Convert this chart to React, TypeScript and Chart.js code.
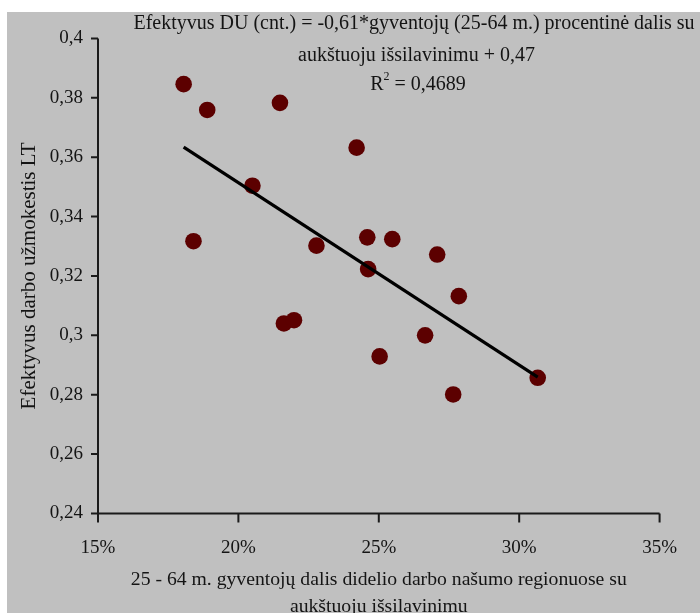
import React, { useEffect, useRef } from 'react';
import { Chart, registerables } from 'chart.js';

Chart.register(...registerables);

// Share (%) of 25-64 population with higher education in high-productivity regions
const educationShare = [
  18.05, 18.89, 21.48, 24.21, 20.5, 18.4, 22.78, 24.59, 25.48,
  27.08, 24.62, 27.85, 21.62, 21.98, 26.65, 25.03, 27.65, 30.66,
];
// Effective wage, LT
const effectiveWage = [
  0.3846, 0.3759, 0.3783, 0.3632, 0.3504, 0.3317, 0.3302, 0.333, 0.3324,
  0.3272, 0.3223, 0.3132, 0.304, 0.3051, 0.3, 0.2929, 0.2801, 0.2857,
];

const xTickValues = [15, 20, 25, 30, 35];
const yMin = 0.24;
const yMax = 0.4;
const yStep = 0.02;

const xAxisTitle = [
  '25 - 64 m. gyventojų dalis didelio darbo našumo regionuose su',
  'aukštuoju išsilavinimu',
];
const yAxisTitle = 'Efektyvus darbo užmokestis LT';
const equationLines = [
  'Efektyvus DU (cnt.) = -0,61*gyventojų (25-64 m.) procentinė dalis su',
  'aukštuoju išsilavinimu + 0,47',
];
const rSquaredValue = '0,4689';

const FONT = "'Liberation Serif', 'Times New Roman', serif";
const TEXT = '#141414';

function regression(xs: number[], ys: number[]) {
  const n = xs.length;
  const mx = xs.reduce((a, b) => a + b, 0) / n;
  const my = ys.reduce((a, b) => a + b, 0) / n;
  let sxy = 0;
  let sxx = 0;
  for (let i = 0; i < n; i++) {
    sxy += (xs[i] - mx) * (ys[i] - my);
    sxx += (xs[i] - mx) * (xs[i] - mx);
  }
  const slope = sxy / sxx;
  return { slope, intercept: my - slope * mx };
}

const axesPlugin = {
  id: 'customAxes',
  beforeDatasetsDraw(chart: any) {
    const { ctx, chartArea } = chart;
    const xs = chart.scales.x;
    const ys = chart.scales.y;
    ctx.save();
    ctx.strokeStyle = '#1a1a1a';
    ctx.lineWidth = 2;
    ctx.beginPath();
    ctx.moveTo(chartArea.left, chartArea.top);
    ctx.lineTo(chartArea.left, chartArea.bottom);
    ctx.lineTo(chartArea.right, chartArea.bottom);
    ys.ticks.forEach((t: any) => {
      const py = ys.getPixelForValue(t.value);
      ctx.moveTo(chartArea.left - 7, py);
      ctx.lineTo(chartArea.left, py);
    });
    xs.ticks.forEach((t: any) => {
      const px = xs.getPixelForValue(t.value);
      ctx.moveTo(px, chartArea.bottom);
      ctx.lineTo(px, chartArea.bottom + 9);
    });
    ctx.stroke();
    ctx.restore();
  },
};

const equationPlugin = {
  id: 'equationText',
  afterDraw(chart: any) {
    const { ctx } = chart;
    ctx.save();
    ctx.fillStyle = TEXT;
    ctx.textBaseline = 'middle';
    ctx.textAlign = 'center';
    ctx.font = `20px ${FONT}`;
    ctx.fillText(equationLines[0], 407, 12);
    ctx.fillText(equationLines[1], 409.5, 43.5);
    // R² line
    const rest = ' = ' + rSquaredValue;
    const wR = ctx.measureText('R').width;
    ctx.font = `12px ${FONT}`;
    const w2 = ctx.measureText('2').width;
    ctx.font = `20px ${FONT}`;
    const wRest = ctx.measureText(rest).width;
    const total = wR + w2 + wRest;
    let x = 411 - total / 2;
    ctx.textAlign = 'left';
    ctx.fillText('R', x, 72.5);
    x += wR;
    ctx.font = `12px ${FONT}`;
    ctx.fillText('2', x, 64.5);
    x += w2;
    ctx.font = `20px ${FONT}`;
    ctx.fillText(rest, x, 72.5);
    ctx.restore();
  },
};

export default function App() {
  const canvasRef = useRef<HTMLCanvasElement | null>(null);

  useEffect(() => {
    if (!canvasRef.current) return;
    const fit = regression(educationShare, effectiveWage);
    const minX = Math.min(...educationShare);
    const maxX = Math.max(...educationShare);
    const trend = [
      { x: minX, y: fit.intercept + fit.slope * minX },
      { x: maxX, y: fit.intercept + fit.slope * maxX },
    ];
    const points = educationShare.map((x, i) => ({ x, y: effectiveWage[i] }));

    const chart = new Chart(canvasRef.current, {
      type: 'scatter',
      data: {
        datasets: [
          {
            data: trend,
            showLine: true,
            borderColor: '#000000',
            borderWidth: 3.2,
            pointRadius: 0,
            fill: false,
          },
          {
            data: points,
            backgroundColor: '#5c0000',
            borderColor: '#5c0000',
            borderWidth: 0,
            pointRadius: 8.3,
            pointHoverRadius: 8.3,
          },
        ],
      },
      options: {
        animation: false,
        responsive: false,
        devicePixelRatio: 1,
        layout: { padding: { top: 19.5, right: 31, left: 0, bottom: 0 } },
        plugins: {
          legend: { display: false },
          tooltip: { enabled: false },
          title: { display: false },
        },
        scales: {
          x: {
            type: 'linear',
            min: 15,
            max: 35,
            afterBuildTicks: (scale: any) => {
              scale.ticks = xTickValues.map((v) => ({ value: v }));
            },
            afterFit: (scale: any) => {
              scale.height = 108.5;
            },
            grid: { display: false, drawTicks: false },
            border: { display: false },
            ticks: {
              padding: 23,
              color: TEXT,
              font: { family: FONT, size: 19 },
              maxRotation: 0,
              callback: (v: any) => `${v}%`,
            },
            title: {
              display: true,
              text: xAxisTitle,
              color: TEXT,
              font: { family: FONT, size: 19.7, lineHeight: 1.37 },
              padding: { top: 0, bottom: 1.5 },
            },
          },
          y: {
            type: 'linear',
            min: yMin,
            max: yMax,
            ticks: {
              stepSize: yStep,
              padding: 15,
              color: TEXT,
              font: { family: FONT, size: 19 },
              callback: (v: any) =>
                parseFloat(Number(v).toFixed(2)).toString().replace('.', ','),
            },
            afterFit: (scale: any) => {
              scale.width = 91;
            },
            grid: { display: false, drawTicks: false },
            border: { display: false },
            title: {
              display: true,
              text: yAxisTitle,
              color: TEXT,
              font: { family: FONT, size: 21 },
              padding: { top: 10, bottom: 0 },
            },
          },
        },
      },
      plugins: [axesPlugin, equationPlugin],
    } as any);

    return () => chart.destroy();
  }, []);

  return (
    <div
      style={{
        position: 'fixed',
        left: 7,
        top: 12,
        width: 693,
        height: 610,
        background: '#c0c0c0',
      }}
    >
      <canvas ref={canvasRef} width={693} height={610} style={{ display: 'block' }} />
    </div>
  );
}
